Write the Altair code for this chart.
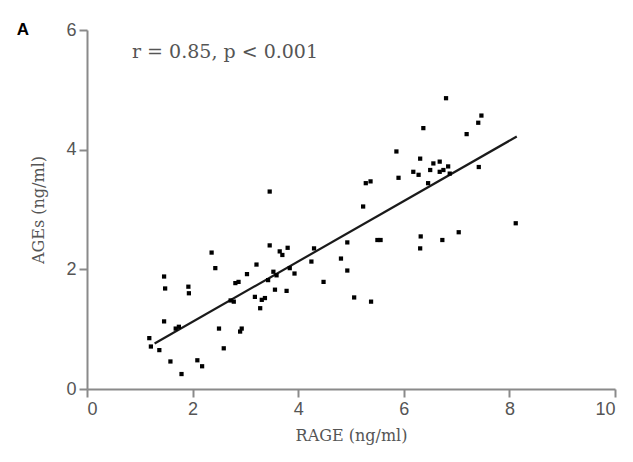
import altair as alt
import pandas as pd

# RAGE (ng/ml) and AGEs (ng/ml) values
rage = [3.46, 3.46, 3.65, 3.80, 3.70, 4.30, 2.36, 2.43, 3.21, 3.03,
        1.46, 1.48, 1.92, 1.93, 2.87, 2.81, 3.53, 3.59, 3.43, 3.56,
        3.78, 3.84, 3.93, 3.18, 3.31, 3.37, 3.28, 2.78, 1.46, 1.68,
        1.74, 1.18, 1.21, 1.37, 2.50, 2.93, 2.90, 2.59, 1.58, 2.09,
        2.18, 1.79, 6.80, 7.47, 7.41, 6.37, 7.19, 5.86, 6.31, 6.56,
        6.68, 6.84, 6.18, 6.28, 6.50, 6.68, 6.75, 6.87, 5.90, 7.42,
        5.28, 5.37, 5.23, 4.25, 4.93, 4.81, 4.93, 4.48, 5.06, 5.38,
        5.50, 5.56, 6.32, 6.31, 6.73, 7.04, 8.12, 6.46, 2.72]
ages = [3.30, 2.40, 2.30, 2.36, 2.24, 2.35, 2.28, 2.02, 2.08, 1.92,
        1.88, 1.68, 1.71, 1.60, 1.79, 1.77, 1.96, 1.90, 1.82, 1.66,
        1.64, 2.02, 1.93, 1.54, 1.49, 1.52, 1.35, 1.46, 1.13, 1.01,
        1.04, 0.85, 0.71, 0.65, 1.01, 1.01, 0.96, 0.68, 0.46, 0.48,
        0.38, 0.25, 4.86, 4.57, 4.45, 4.36, 4.26, 3.97, 3.85, 3.77,
        3.80, 3.72, 3.63, 3.58, 3.66, 3.63, 3.66, 3.60, 3.53, 3.71,
        3.44, 3.47, 3.05, 2.13, 2.45, 2.18, 1.98, 1.79, 1.53, 1.46,
        2.49, 2.49, 2.55, 2.35, 2.49, 2.62, 2.77, 3.44, 1.48]

# fitted line end points
fit_x = [1.28, 8.14]
fit_y = [0.76, 4.22]

x_ticks = [0, 2, 4, 6, 8, 10]
y_ticks = [0, 2, 4, 6]
stat_text = ["r = 0.85, p < 0.001"]
panel_label = ["A"]

pts = pd.DataFrame({"RAGE": rage, "AGEs": ages})
fit = pd.DataFrame({"RAGE": fit_x, "AGEs": fit_y})

xs = alt.Scale(domain=[0, 10], nice=False)
ys = alt.Scale(domain=[0, 6], nice=False)

xaxis = alt.Axis(values=x_ticks, format="d", title="RAGE (ng/ml)", titlePadding=9)
yaxis = alt.Axis(values=y_ticks, format="d", title="AGEs (ng/ml)", titlePadding=19)

points = alt.Chart(pts).mark_point(
    shape="square", filled=True, size=18, color="black", opacity=1
).encode(
    x=alt.X("RAGE:Q", scale=xs, axis=xaxis),
    y=alt.Y("AGEs:Q", scale=ys, axis=yaxis),
)

line = alt.Chart(fit).mark_line(color="#1a1a1a", strokeWidth=2.2).encode(
    x=alt.X("RAGE:Q", scale=xs),
    y=alt.Y("AGEs:Q", scale=ys),
)

txt = alt.Chart(pd.DataFrame({"t": stat_text})).mark_text(
    align="left", baseline="middle", font="DejaVu Serif",
    fontSize=19, color="#555555"
).encode(text="t:N", x=alt.value(45), y=alt.value(22))

lab = alt.Chart(pd.DataFrame({"t": panel_label})).mark_text(
    align="center", baseline="middle", font="Liberation Sans",
    fontSize=17, fontWeight="bold", color="black"
).encode(text="t:N", x=alt.value(-64), y=alt.value(0))

chart = alt.layer(line, points, txt, lab).properties(
    width=528, height=359,
    autosize=alt.AutoSizeParams(type="none"),
    padding={"left": 79, "top": 22, "right": 10, "bottom": 60},
).configure_view(stroke=None).configure_axis(
    grid=False,
    domainColor="#8a8a8a", domainWidth=2,
    tickColor="#8a8a8a", tickWidth=2, tickSize=8,
    labelFont="Liberation Sans", labelFontSize=18, labelColor="#555555",
    labelPadding=3,
    titleFont="DejaVu Serif", titleFontSize=16, titleColor="#555555",
    titleFontWeight="normal",
)

chart.save("out.html", embed_options={"renderer": "svg", "actions": False})
